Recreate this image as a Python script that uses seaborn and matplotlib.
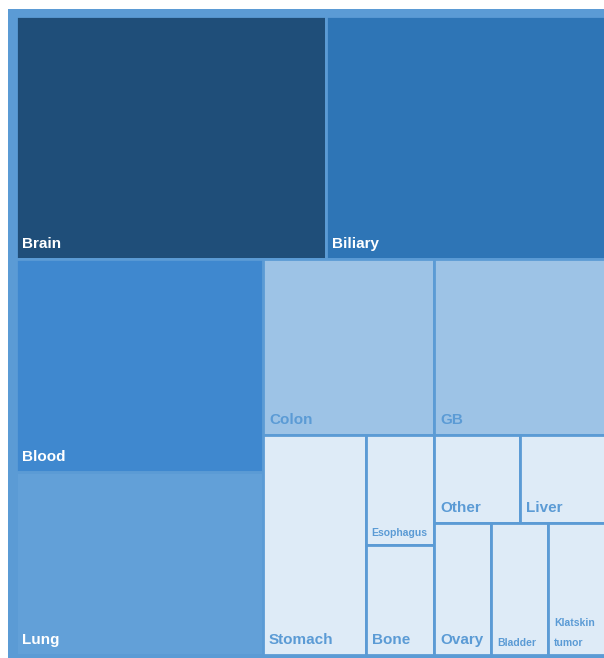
import matplotlib
matplotlib.use("Agg")
import matplotlib.pyplot as plt
from matplotlib.patches import Rectangle
import seaborn as sns

# tumour sites and their counts (tile areas)
sites = ["Brain", "Biliary", "Blood", "Lung", "Colon", "GB", "Stomach",
         "Esophagus", "Bone", "Other", "Liver", "Ovary", "Bladder", "Klatskin tumor"]
counts = [10, 9, 7, 6, 4, 4, 3, 1, 1, 1, 1, 1, 1, 1]

# fill colours per site
tile_colors = {
    "Brain": "#1f4e79", "Biliary": "#2e75b6", "Blood": "#3f88cf", "Lung": "#62a0d8",
    "Colon": "#9dc3e6", "GB": "#9dc3e6",
}
light_fill = "#deebf7"
frame_color = "#5b9bd5"
dark_sites = ["Brain", "Biliary", "Blood", "Lung"]

# canvas of the treemap (pixels)
W, H = 589.8, 639.8


def squarify(values, x, y, w, h, target=1.22):
    # squarified layout, slightly favouring tall tiles (height/width ~ target)
    scale = w * h / sum(values)
    areas = [v * scale for v in values]
    rects = []
    i = 0
    while i < len(areas):
        column = w >= h
        side = h if column else w

        def cost(row):
            thick = sum(row) / side
            worst = 0
            for a in row:
                length = a / thick
                tw, th = (thick, length) if column else (length, thick)
                r = th / tw
                worst = max(worst, r / target, target / r)
            return worst

        j = i + 1
        while j < len(areas) and cost(areas[i:j + 1]) <= cost(areas[i:j]):
            j += 1
        row = areas[i:j]
        thick = sum(row) / side
        pos = y if column else x
        for a in row:
            length = a / thick
            if column:
                rects.append((x, pos, thick, length))
            else:
                rects.append((pos, y, length, thick))
            pos += length
        if column:
            x += thick
            w -= thick
        else:
            y += thick
            h -= thick
        i = j
    return rects


sns.set_theme(style="white")
plt.rcParams["font.family"] = ["Liberation Sans", "DejaVu Sans"]

fig = plt.figure(figsize=(6.04, 6.58), dpi=100)
ax = fig.add_axes([8 / 604, 0, 596 / 604, 649 / 658])
ax.set_xlim(-7.6, 588.4)
ax.set_ylim(642.4, -6.6)
ax.set_facecolor(frame_color)
ax.set_xticks([])
ax.set_yticks([])
for s in ax.spines.values():
    s.set_visible(False)

renderer = fig.canvas.get_renderer()
rects = squarify(counts, 0, 0, W, H)

for name, (x, y, w, h) in zip(sites, rects):
    ax.add_patch(Rectangle((x, y), w, h, facecolor=tile_colors.get(name, light_fill),
                           edgecolor=frame_color, linewidth=2.0))
    color = "white" if name in dark_sites else frame_color
    base = y + h - 11
    size = 11
    t = ax.text(x + 6, base, name, fontsize=size, fontweight="bold", color=color,
                ha="left", va="baseline")
    if t.get_window_extent(renderer).width > w - 9:
        size = 7.5
        t.set_fontsize(size)
        if t.get_window_extent(renderer).width > w - 9:
            t.remove()
            for k, line in enumerate(reversed(name.split())):
                ax.text(x + 6, base + 2 - k * 20, line, fontsize=size, fontweight="bold",
                        color=color, ha="left", va="baseline")
            continue
        t.set_y(base + 2)

fig.savefig("out.png", dpi=100)
